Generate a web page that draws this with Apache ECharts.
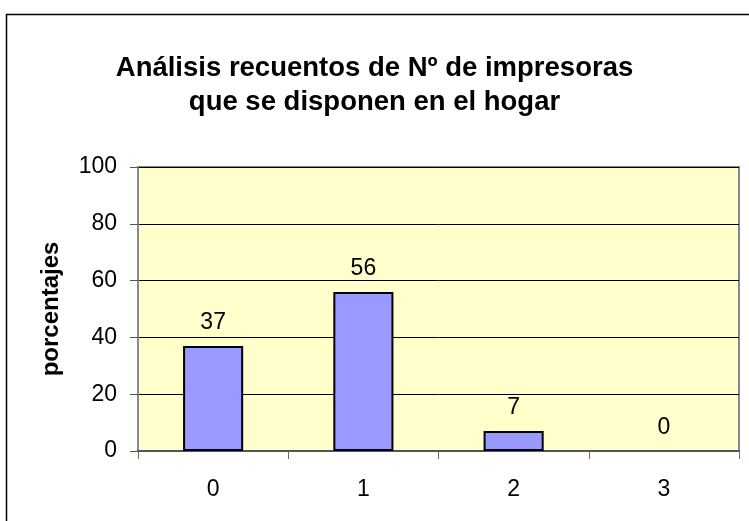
<!DOCTYPE html>
<html>
<head>
<meta charset="utf-8">
<script src="https://cdn.jsdelivr.net/npm/echarts@6/dist/echarts.min.js"></script>
<style>
  html, body { margin: 0; padding: 0; background: #fff; }
  #chart { width: 749px; height: 521px; }
</style>
</head>
<body>
<div id="chart"></div>
<script>
  // datos
  var categorias = ['0', '1', '2', '3'];
  var porcentajes = [37, 56, 7, 0];
  var titulo = 'Análisis recuentos de Nº de impresoras\nque se disponen en el hogar';
  var nombreEjeY = 'porcentajes';

  var fuente = 'Liberation Sans, Arial, sans-serif';

  var chartDom = document.getElementById('chart');
  var myChart = echarts.init(chartDom);

  // la barra con valor 0 no se ve en el original
  var datosBarras = porcentajes.map(function (v) {
    return v === 0 ? { value: v, itemStyle: { borderWidth: 0 } } : v;
  });

  var option = {
    animation: false,
    backgroundColor: '#fff',
    graphic: [
      {
        type: 'rect',
        shape: { x: 6.5, y: 14.5, width: 800, height: 600 },
        style: { fill: 'none', stroke: '#000', lineWidth: 1.5 },
        silent: true
      }
    ],
    title: {
      text: titulo,
      left: 'center',
      top: 46,
      textStyle: {
        fontFamily: fuente,
        fontSize: 27.5,
        fontWeight: 'bold',
        color: '#000',
        lineHeight: 34
      }
    },
    grid: {
      left: 138,
      right: 10,
      top: 167,
      bottom: 70,
      show: true,
      backgroundColor: '#FFFFCC',
      borderColor: '#888',
      borderWidth: 2
    },
    xAxis: {
      type: 'category',
      data: categorias,
      axisLine: { lineStyle: { color: '#555', width: 2 } },
      axisTick: { show: true, length: 8, alignWithLabel: false, lineStyle: { color: '#666', width: 1 } },
      axisLabel: {
        margin: 27,
        fontFamily: fuente,
        fontSize: 23,
        color: '#000'
      }
    },
    yAxis: {
      type: 'value',
      min: 0,
      max: 100,
      interval: 20,
      name: nombreEjeY,
      nameLocation: 'middle',
      nameGap: 75,
      nameTextStyle: {
        fontFamily: fuente,
        fontSize: 24,
        fontWeight: 'bold',
        color: '#000'
      },
      axisLine: { show: true, lineStyle: { color: '#888', width: 2 } },
      axisTick: { show: true, length: 8, lineStyle: { color: '#555', width: 1 } },
      axisLabel: {
        margin: 21,
        fontFamily: fuente,
        fontSize: 23,
        color: '#000'
      },
      splitLine: { show: true, lineStyle: { color: '#000', width: 1 } }
    },
    series: [
      {
        type: 'bar',
        data: datosBarras,
        barWidth: '40%',
        itemStyle: {
          color: '#9999FF',
          borderColor: '#000',
          borderWidth: 2
        },
        label: {
          show: true,
          position: 'top',
          distance: 12,
          fontFamily: fuente,
          fontSize: 23,
          color: '#000'
        }
      }
    ]
  };

  myChart.setOption(option);
</script>
</body>
</html>
